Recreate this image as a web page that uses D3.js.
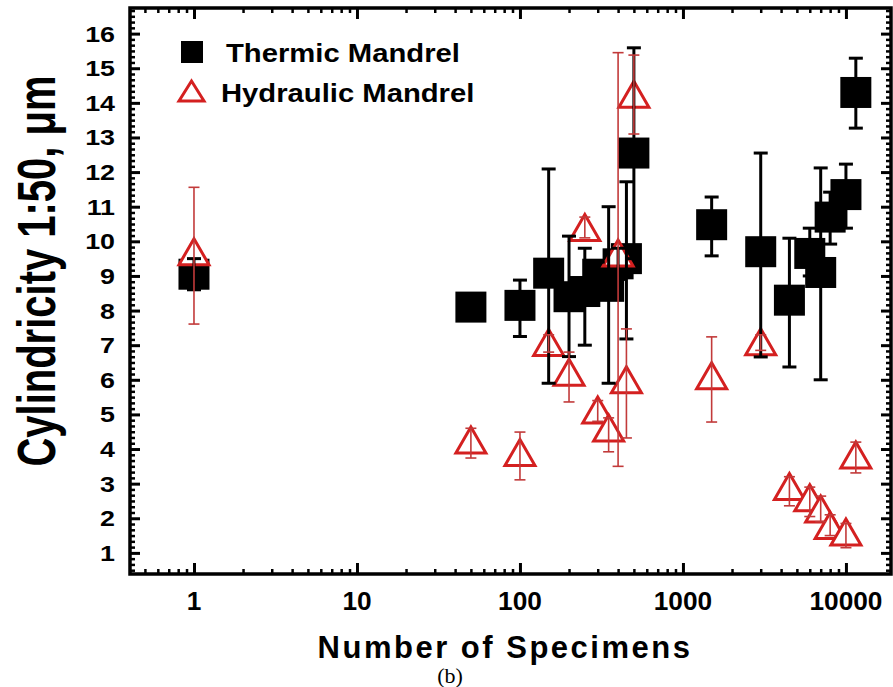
<!DOCTYPE html>
<html>
<head>
<meta charset="utf-8">
<script src="https://cdn.jsdelivr.net/npm/d3@7"></script>
<style>
body { margin: 0; background: white; }
svg { display: block; }
</style>
</head>
<body>
<svg></svg>
<script>
// thermic mandrel (black squares)
var thermicN = [1, 50, 100, 150, 200, 250, 300, 350, 400, 450, 500, 1500, 3000, 4500, 6000, 7000, 8000, 10000, 11500];
var thermicVal = [9.05, 8.1, 8.15, 9.08, 8.4, 8.55, 9.05, 8.7, 9.35, 9.5, 12.55, 10.48, 9.7, 8.3, 9.65, 9.1, 10.7, 11.35, 14.3];
var thermicLow = [8.6, 7.9, 7.25, 5.9, 6.67, 7.0, 8.7, 5.9, 8.9, 7.18, 9.5, 9.58, 6.66, 6.37, 9.0, 6.0, 9.92, 10.38, 13.27];
var thermicHigh = [9.5, 8.2, 8.88, 12.09, 10.15, 9.8, 9.4, 11.0, 9.8, 11.72, 15.59, 11.28, 12.55, 10.09, 10.38, 12.12, 11.42, 12.23, 15.29];

// hydraulic mandrel (red triangles)
var hydraulicN = [1, 50, 100, 150, 200, 250, 300, 350, 400, 450, 500, 1500, 3000, 4500, 6000, 7000, 8000, 10000, 11500];
var hydraulicVal = [9.7, 4.26, 3.9, 7.08, 6.22, 10.4, 5.13, 4.61, 9.66, 6.0, 14.25, 6.12, 7.1, 2.92, 2.59, 2.27, 1.79, 1.6, 3.83];
var hydraulicLow = [7.61, 3.74, 3.11, 6.8, 5.36, 10.1, 4.8, 3.92, 3.5, 4.32, 13.1, 4.78, 6.85, 2.36, 2.05, 1.9, 1.5, 1.15, 3.31];
var hydraulicHigh = [11.56, 4.6, 4.49, 7.3, 6.8, 10.7, 5.4, 4.9, 15.45, 7.47, 15.38, 7.24, 7.3, 3.2, 2.9, 2.64, 2.1, 1.85, 4.2];

var seriesNames = ["Thermic Mandrel", "Hydraulic Mandrel"];
var xTickValues = [1, 10, 100, 1000, 10000];
var yTickValues = [1, 2, 3, 4, 5, 6, 7, 8, 9, 10, 11, 12, 13, 14, 15, 16];

var red = "#d42020";
var errRed = "#c23a3a";

var makeTranslateString = function (x, y) {
    return "translate(" + x + "," + y + ")";
}

var toPoints = function (ns, vals, lows, highs) {
    return ns.map(function (n, i) {
        return { n: n, v: vals[i], lo: lows[i], hi: highs[i] };
    })
}

// text that is a bit wider than the font, like the stretched original
var wideText = function (parent, txt, x, y, size, sx, anchor) {
    return parent.append("g")
        .attr("transform", makeTranslateString(x, y) + " scale(" + sx + ",1)")
        .append("text")
        .text(txt)
        .attr("text-anchor", anchor)
        .attr("font-family", "'Liberation Sans', Arial, sans-serif")
        .attr("font-weight", "bold")
        .attr("font-size", size)
        .attr("fill", "black")
}

var screen = { width: 893, height: 687 };
var plot = { left: 130, right: 891, top: 8, bottom: 574 };

var svg = d3.select("svg")
    .attr("width", screen.width)
    .attr("height", screen.height)

svg.append("rect")
    .attr("width", screen.width)
    .attr("height", screen.height)
    .attr("fill", "white")

var xScale = d3.scaleLog()
    .domain([0.405, 18900])
    .range([plot.left, plot.right])

var yScale = d3.scaleLinear()
    .domain([0.39, 16.74])
    .range([plot.bottom, plot.top])

var drawAxes = function () {
    var xd = xScale.domain();
    var yd = yScale.domain();

    var xMinor = [];
    [0.1, 1, 10, 100, 1000, 10000].forEach(function (dec) {
        for (var m = 2; m <= 9; m++) {
            var v = m * dec;
            if (v >= xd[0] && v <= xd[1]) xMinor.push(v);
        }
    })
    var yMinor = [];
    for (var k = Math.ceil(yd[0] * 6); k <= Math.floor(yd[1] * 6); k++) {
        if (k % 6 != 0) yMinor.push(k / 6);
    }

    var axes = svg.append("g").classed("axes", true)

    var addAxis = function (axis, tx, ty, size, values, sw) {
        axes.append("g")
            .attr("transform", makeTranslateString(tx, ty))
            .call(axis.tickValues(values).tickSizeInner(size).tickSizeOuter(0).tickFormat(""))
            .call(function (g) {
                g.select(".domain").remove();
                g.selectAll("line").attr("stroke", "black").attr("stroke-width", sw);
            })
    }

    addAxis(d3.axisBottom(xScale), 0, plot.bottom, -11, xTickValues, 3)
    addAxis(d3.axisBottom(xScale), 0, plot.bottom, -5, xMinor, 2.5)
    addAxis(d3.axisTop(xScale), 0, plot.top, -11, xTickValues, 3)
    addAxis(d3.axisTop(xScale), 0, plot.top, -5, xMinor, 2.5)
    addAxis(d3.axisLeft(yScale), plot.left, 0, -10, yTickValues, 3)
    addAxis(d3.axisLeft(yScale), plot.left, 0, -5, yMinor, 2.5)
    addAxis(d3.axisRight(yScale), plot.right, 0, -10, yTickValues, 3)
    addAxis(d3.axisRight(yScale), plot.right, 0, -5, yMinor, 2.5)

    var labels = svg.append("g").classed("tickLabels", true)
    yTickValues.forEach(function (v) {
        wideText(labels, String(v), 115, yScale(v) + 8, 22, 1.22, "end")
    })
    xTickValues.forEach(function (v) {
        wideText(labels, String(v), xScale(v), 610, 25, 1.05, "middle")
    })
}

var drawErrorBars = function (target, points, color, sw, capW) {
    var bars = target.selectAll("g")
        .data(points)
        .enter()
        .append("g")
        .attr("stroke", color)
        .attr("stroke-width", sw)

    bars.append("line")
        .attr("x1", function (d) { return xScale(d.n) })
        .attr("x2", function (d) { return xScale(d.n) })
        .attr("y1", function (d) { return yScale(d.lo) })
        .attr("y2", function (d) { return yScale(d.hi) })

    bars.append("line")
        .attr("x1", function (d) { return xScale(d.n) - capW / 2 })
        .attr("x2", function (d) { return xScale(d.n) + capW / 2 })
        .attr("y1", function (d) { return yScale(d.hi) })
        .attr("y2", function (d) { return yScale(d.hi) })

    bars.append("line")
        .attr("x1", function (d) { return xScale(d.n) - capW / 2 })
        .attr("x2", function (d) { return xScale(d.n) + capW / 2 })
        .attr("y1", function (d) { return yScale(d.lo) })
        .attr("y2", function (d) { return yScale(d.lo) })
}

var trianglePath = function (w, h) {
    return "M0," + (-h / 2) + "L" + (w / 2) + "," + (h / 2) + "L" + (-w / 2) + "," + (h / 2) + "Z";
}

var drawMarks = function () {
    var thermic = toPoints(thermicN, thermicVal, thermicLow, thermicHigh);
    var hydraulic = toPoints(hydraulicN, hydraulicVal, hydraulicLow, hydraulicHigh);

    var marks = svg.append("g").classed("marks", true)

    marks.append("g")
        .selectAll("rect")
        .data(thermic)
        .enter()
        .append("rect")
        .attr("x", function (d) { return xScale(d.n) - 15.5 })
        .attr("y", function (d) { return yScale(d.v) - 15.5 })
        .attr("width", 31)
        .attr("height", 31)
        .attr("fill", "black")

    marks.append("g")
        .selectAll("path")
        .data(hydraulic)
        .enter()
        .append("path")
        .attr("d", trianglePath(30, 26))
        .attr("transform", function (d) { return makeTranslateString(xScale(d.n), yScale(d.v)) })
        .attr("fill", "white")
        .attr("stroke", red)
        .attr("stroke-width", 3)
        .attr("stroke-linejoin", "miter")

    drawErrorBars(marks.append("g"), thermic, "black", 3, 14)
    drawErrorBars(marks.append("g"), hydraulic, errRed, 1.6, 11)
}

var drawLegend = function () {
    var legend = svg.append("g").classed("legend", true)
    legend.append("rect")
        .attr("x", 181)
        .attr("y", 41)
        .attr("width", 22)
        .attr("height", 22)
        .attr("fill", "black")
    legend.append("path")
        .attr("d", trianglePath(25, 20))
        .attr("transform", makeTranslateString(191.5, 91))
        .attr("fill", "white")
        .attr("stroke", red)
        .attr("stroke-width", 3)
    wideText(legend, seriesNames[0], 226, 62, 25, 1.17, "start")
    wideText(legend, seriesNames[1], 221, 102, 25, 1.17, "start")
}

var drawLabels = function () {
    var labels = svg.append("g").classed("labels", true)

    labels.append("text")
        .text("Number of Specimens")
        .attr("x", 505)
        .attr("y", 658)
        .attr("text-anchor", "middle")
        .attr("font-family", "'Liberation Sans', Arial, sans-serif")
        .attr("font-weight", "bold")
        .attr("font-size", 31)
        .attr("letter-spacing", 2.5)

    labels.append("g")
        .attr("transform", makeTranslateString(55, 271) + " scale(1.35,1) rotate(-90)")
        .append("text")
        .text("Cylindricity 1:50, \u03bcm")
        .attr("text-anchor", "middle")
        .attr("font-family", "'Liberation Sans', Arial, sans-serif")
        .attr("font-weight", "bold")
        .attr("font-size", 40)

    labels.append("text")
        .text("(b)")
        .attr("x", 450)
        .attr("y", 683)
        .attr("text-anchor", "middle")
        .attr("font-family", "'Liberation Serif', 'Times New Roman', serif")
        .attr("font-size", 22)
}

drawMarks()
drawAxes()
drawLegend()
drawLabels()

svg.append("rect")
    .attr("x", plot.left)
    .attr("y", plot.top)
    .attr("width", plot.right - plot.left)
    .attr("height", plot.bottom - plot.top)
    .attr("fill", "none")
    .attr("stroke", "black")
    .attr("stroke-width", 3.5)
</script>
</body>
</html>
